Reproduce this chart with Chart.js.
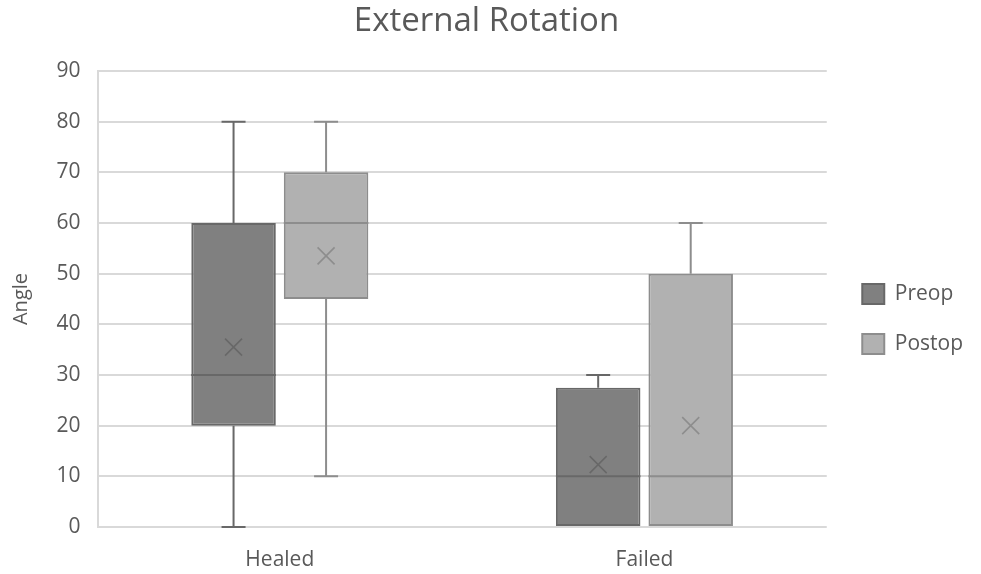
<!DOCTYPE html>
<html>
<head>
<meta charset="utf-8">
<script src="https://cdn.jsdelivr.net/npm/chart.js@4.4.1/dist/chart.umd.min.js"></script>
<style>
  html, body { margin: 0; padding: 0; background: #ffffff; }
  #wrap { width: 981px; height: 574px; }
</style>
</head>
<body>
<div id="wrap"><canvas id="chart" width="981" height="574"></canvas></div>
<script>
// Groups along the x axis
const categories = ['Healed', 'Failed'];

// Five-number summaries plus mean, one entry per group
const preopMin    = [0, 0];
const preopQ1     = [20, 0];
const preopMedian = [30, 10];
const preopQ3     = [60, 27.5];
const preopMax    = [80, 30];
const preopMean   = [35.5, 12.3];

const postopMin    = [10, 0];
const postopQ1     = [45, 0];
const postopMedian = [60, 10];
const postopQ3     = [70, 50];
const postopMax    = [80, 60];
const postopMean   = [53.5, 20];

const yTicks = [0, 10, 20, 30, 40, 50, 60, 70, 80, 90];

const FONT = '"Open Sans", "Noto Sans", sans-serif';
const TEXT = '#595959';

const series = [
  { label: 'Preop', fill: '#808080', edge: '#686868',
    min: preopMin, q1: preopQ1, med: preopMedian, q3: preopQ3, max: preopMax, mean: preopMean },
  { label: 'Postop', fill: '#b1b1b1', edge: '#8d8d8d',
    min: postopMin, q1: postopQ1, med: postopMedian, q3: postopQ3, max: postopMax, mean: postopMean }
];

// Whiskers, medians and mean markers drawn on top of the floating boxes
const boxDecor = {
  id: 'boxDecor',
  afterDatasetsDraw(chart) {
    const ctx = chart.ctx;
    const y = chart.scales.y;
    chart.data.datasets.forEach((ds, di) => {
      const s = series[di];
      const meta = chart.getDatasetMeta(di);
      meta.data.forEach((bar, i) => {
        const cx = bar.x;
        const half = bar.width / 2;
        const cap = 12;
        ctx.save();
        ctx.strokeStyle = s.edge;
        ctx.lineWidth = 2;
        // upper whisker
        if (s.max[i] > s.q3[i]) {
          ctx.beginPath();
          ctx.moveTo(cx, y.getPixelForValue(s.q3[i]));
          ctx.lineTo(cx, y.getPixelForValue(s.max[i]));
          ctx.moveTo(cx - cap, y.getPixelForValue(s.max[i]));
          ctx.lineTo(cx + cap, y.getPixelForValue(s.max[i]));
          ctx.stroke();
        }
        // lower whisker
        if (s.min[i] < s.q1[i]) {
          ctx.beginPath();
          ctx.moveTo(cx, y.getPixelForValue(s.q1[i]));
          ctx.lineTo(cx, y.getPixelForValue(s.min[i]));
          ctx.moveTo(cx - cap, y.getPixelForValue(s.min[i]));
          ctx.lineTo(cx + cap, y.getPixelForValue(s.min[i]));
          ctx.stroke();
        }
        // median
        const my = y.getPixelForValue(s.med[i]);
        ctx.beginPath();
        ctx.moveTo(cx - half, my);
        ctx.lineTo(cx + half, my);
        ctx.stroke();
        // mean marker (x)
        const ay = y.getPixelForValue(s.mean[i]);
        const r = 8.5;
        ctx.lineWidth = 1.6;
        ctx.beginPath();
        ctx.moveTo(cx - r, ay - r);
        ctx.lineTo(cx + r, ay + r);
        ctx.moveTo(cx + r, ay - r);
        ctx.lineTo(cx - r, ay + r);
        ctx.stroke();
        ctx.restore();
      });
    });
  }
};

new Chart(document.getElementById('chart'), {
  type: 'bar',
  data: {
    labels: categories,
    datasets: series.map(s => ({
      label: s.label,
      data: s.q1.map((v, i) => [v, s.q3[i]]),
      backgroundColor: s.fill,
      borderColor: s.edge,
      borderWidth: 2,
      borderSkipped: false,
      categoryPercentage: 0.5075,
      barPercentage: 0.9135,
      yAxisID: 'y'
    }))
  },
  options: {
    responsive: false,
    animation: false,
    layout: { padding: { left: 0, right: 8, top: 0, bottom: 0 } },
    plugins: {
      title: {
        display: true,
        text: 'External Rotation',
        color: TEXT,
        font: { family: FONT, size: 33, weight: 'normal', lineHeight: 1.2 },
        padding: { top: 2, bottom: 29.4 }
      },
      legend: {
        position: 'right',
        title: {
          display: true,
          text: ' ',
          font: { family: FONT, size: 10, lineHeight: 1.2 },
          padding: { top: 26, bottom: 26 }
        },
        labels: {
          color: TEXT,
          font: { family: FONT, size: 21 },
          boxWidth: 22,
          boxHeight: 20,
          padding: 29
        }
      },
      tooltip: { enabled: false }
    },
    scales: {
      x: {
        afterFit(scale) { scale.height = 47; },
        grid: { display: false, drawTicks: false },
        border: { display: false },
        ticks: { color: TEXT, font: { family: FONT, size: 21 }, padding: 20 }
      },
      y: {
        min: 0,
        max: 90,
        afterBuildTicks(scale) { scale.ticks = yTicks.map(v => ({ value: v })); },
        afterFit(scale) { scale.width = 97.5; },
        grid: { color: '#d9d9d9', lineWidth: 2, drawTicks: false },
        border: { color: '#d9d9d9', width: 2 },
        ticks: { color: TEXT, font: { family: FONT, size: 21 }, padding: 17 },
        title: {
          display: true,
          text: 'Angle',
          color: TEXT,
          font: { family: FONT, size: 20 },
          padding: { top: 9, bottom: 0 }
        }
      },
      // blank spacer between the plot and the legend
      gap: {
        position: 'right',
        type: 'linear',
        afterFit(scale) { scale.width = 6.5; },
        grid: { display: false, drawTicks: false },
        border: { display: false },
        ticks: { display: false }
      }
    }
  },
  plugins: [boxDecor]
});
</script>
</body>
</html>
